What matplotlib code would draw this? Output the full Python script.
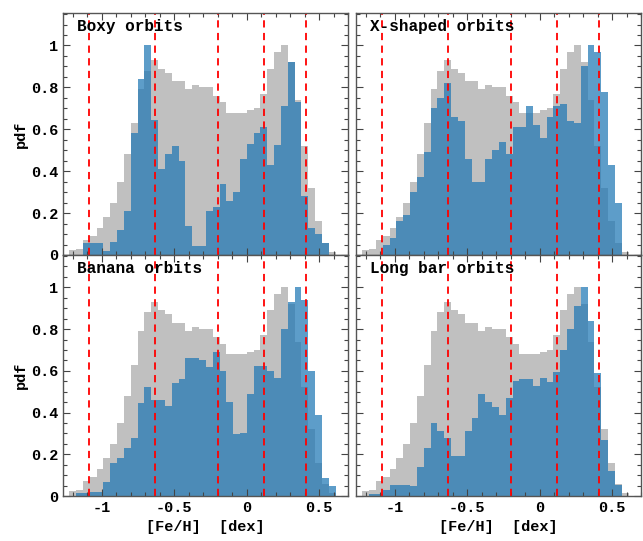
import numpy as np
import matplotlib
matplotlib.use("Agg")
import matplotlib.pyplot as plt
from matplotlib.ticker import MultipleLocator, FuncFormatter

plt.rcParams['font.family'] = ['Liberation Mono', 'DejaVu Sans Mono']
plt.rcParams['font.weight'] = 'bold'
plt.rcParams['font.size'] = 11

# histogram binning in [Fe/H]
bin_start = -1.223
bin_width = 0.0471

# whole sample (gray, same in each panel)
all_pdf = [0.024, 0.03, 0.07, 0.09, 0.13, 0.18, 0.25, 0.35, 0.48, 0.63,
           0.79, 0.88, 0.93, 0.89, 0.87, 0.83, 0.83, 0.79, 0.81, 0.80,
           0.80, 0.76, 0.73, 0.68, 0.68, 0.68, 0.69, 0.70, 0.77, 0.89,
           0.97, 1.0, 0.92, 0.74, 0.52, 0.32, 0.16, 0.056, 0.016]

boxy = [0, 0, 0.056, 0.056, 0.056, 0.02, 0.064, 0.12, 0.21, 0.58,
        0.84, 1.0, 0.645, 0.41, 0.48, 0.52, 0.45, 0.14, 0.045, 0.045,
        0.21, 0.23, 0.34, 0.26, 0.30, 0.46, 0.53, 0.58, 0.61, 0.43,
        0.525, 0.71, 0.92, 0.73, 0.28, 0.13, 0.10, 0.056, 0]

xshaped = [0, 0, 0, 0.05, 0.083, 0.16, 0.19, 0.30, 0.37, 0.49,
           0.70, 0.75, 0.82, 0.66, 0.64, 0.46, 0.35, 0.35, 0.46, 0.50,
           0.54, 0.48, 0.61, 0.61, 0.71, 0.62, 0.56, 0.66, 0.71, 0.72,
           0.64, 0.63, 0.90, 1.0, 0.97, 0.78, 0.43, 0.25, 0]

banana = [0, 0.015, 0.015, 0.02, 0.02, 0.067, 0.16, 0.18, 0.23, 0.28,
          0.445, 0.52, 0.46, 0.46, 0.43, 0.54, 0.56, 0.66, 0.66, 0.65,
          0.62, 0.69, 0.60, 0.45, 0.295, 0.30, 0.49, 0.625, 0.625, 0.60,
          0.565, 0.80, 0.93, 1.0, 0.94, 0.60, 0.39, 0.086, 0.05]

longbar = [0, 0.01, 0.01, 0.03, 0.055, 0.055, 0.055, 0.05, 0.14, 0.23,
           0.35, 0.31, 0.28, 0.19, 0.19, 0.31, 0.375, 0.49, 0.45, 0.425,
           0.39, 0.47, 0.55, 0.56, 0.56, 0.525, 0.565, 0.545, 0.595, 0.70,
           0.80, 0.91, 1.0, 0.84, 0.59, 0.27, 0.12, 0.055, 0]

titles = ['Boxy orbits', 'X-shaped orbits', 'Banana orbits', 'Long bar orbits']
orbit_pdfs = [boxy, xshaped, banana, longbar]
vlines = [-1.09, -0.63, -0.20, 0.12, 0.41]

edges = bin_start + bin_width * np.arange(len(all_pdf) + 1)
left = edges[:-1]

fig = plt.figure(figsize=(6.43, 5.41), dpi=100)
W, H = 643, 541
boxes = [(63, 13, 348, 255), (356, 13, 641, 255),
         (63, 255, 348, 496), (356, 255, 641, 496)]

fmt = FuncFormatter(lambda v, p: f'{v:g}')

for i, (x0, y0, x1, y1) in enumerate(boxes):
    ax = fig.add_axes([x0 / W, 1 - y1 / H, (x1 - x0) / W, (y1 - y0) / H])
    ax.bar(left, all_pdf, width=bin_width, align='edge', color='#c0c0c0', linewidth=0)
    ax.bar(left, orbit_pdfs[i], width=bin_width, align='edge', color='tab:blue',
           alpha=0.72, linewidth=0)
    for v in vlines:
        ax.axvline(v, color='red', linestyle=(0, (4, 3)), linewidth=1.3)
    ax.set_xlim(-1.267, 0.70)
    ax.set_ylim(0, 1.155)
    ax.xaxis.set_major_locator(MultipleLocator(0.5))
    ax.xaxis.set_minor_locator(MultipleLocator(0.1))
    ax.yaxis.set_major_locator(MultipleLocator(0.2))
    ax.yaxis.set_minor_locator(MultipleLocator(0.05))
    ax.xaxis.set_major_formatter(fmt)
    ax.yaxis.set_major_formatter(fmt)
    ax.tick_params(which='both', direction='in', top=True, right=True,
                   color='#444444', width=0.8)
    ax.tick_params(which='major', length=5)
    ax.tick_params(which='minor', length=3)
    for s in ax.spines.values():
        s.set_color('#555555')
        s.set_linewidth(1.0)
    if i % 2 == 1:
        ax.tick_params(labelleft=False)
    else:
        ax.set_ylabel('pdf', fontweight='bold', labelpad=2)
    if i < 2:
        ax.tick_params(labelbottom=False)
    else:
        ax.set_xlabel('[Fe/H]  [dex]', fontweight='bold', labelpad=4)
    ax.text(0.05, 0.975, titles[i], transform=ax.transAxes, ha='left', va='top',
            fontweight='bold', fontsize=11.5)

fig.savefig('out.png', dpi=100)
